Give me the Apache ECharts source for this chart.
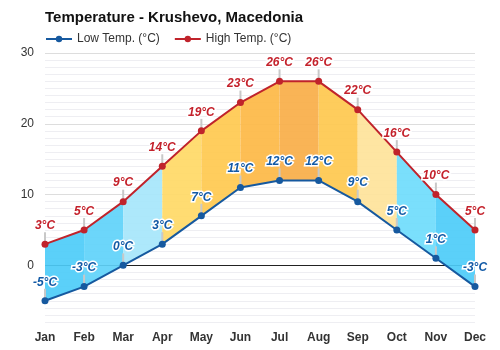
<!DOCTYPE html>
<html><head><meta charset="utf-8">
<script src="https://cdn.jsdelivr.net/npm/echarts@6/dist/echarts.min.js"></script>
<style>html,body{margin:0;padding:0;background:#fff}#c{width:500px;height:350px}</style>
</head><body><div id="c"></div>
<script>
const months = ['Jan','Feb','Mar','Apr','May','Jun','Jul','Aug','Sep','Oct','Nov','Dec'];
const lowTemps = [-5,-3,0,3,7,11,12,12,9,5,1,-3];
const highTemps = [3,5,9,14,19,23,26,26,22,16,10,5];
const yTickLabels = [0,10,20,30];

const segColors = ['#4dccf9','#5fd3fa','#a6e6fb','#ffd966','#ffc94f','#fdb845','#f9ae48','#fec84e','#fee39a','#6fdcfc','#4dccf9'];
const FONT = '"Liberation Sans", Arial, sans-serif';

const segData = [];
for (let i = 0; i < months.length - 1; i++) {
  segData.push([i, lowTemps[i], lowTemps[i+1], highTemps[i], highTemps[i+1]]);
}
const tickData = [];
for (let i = 0; i < months.length; i++) { tickData.push([i, lowTemps[i]]); tickData.push([i, highTemps[i]]); }

const chart = echarts.init(document.getElementById('c'), null, {renderer:'canvas'});
chart.setOption({
  animation:false,
  backgroundColor:'#fff',
  title:{text:'Temperature - Krushevo, Macedonia', left:40, top:5,
    textStyle:{fontFamily:FONT, fontSize:15, fontWeight:'bold', color:'#111'}},
  legend:{left:40, top:28, itemWidth:26, itemHeight:8, itemGap:14,
    data:['Low Temp. (°C)','High Temp. (°C)'],
    textStyle:{fontFamily:FONT, fontSize:12, color:'#333'}},
  grid:{left:45, right:25, top:53, bottom:28},
  xAxis:{type:'category', data:months, boundaryGap:false,
    axisLine:{show:false}, axisTick:{show:false}, splitLine:{show:false},
    axisLabel:{fontFamily:FONT, fontSize:12, fontWeight:'bold', color:'#333', margin:10}},
  yAxis:{type:'value', min:-8, max:30, interval:1,
    axisLine:{show:false}, axisTick:{show:false},
    axisLabel:{fontFamily:FONT, fontSize:12, color:'#333', margin:11,
      formatter:v => yTickLabels.indexOf(v) >= 0 ? String(v) : ''},
    splitLine:{lineStyle:{color:'#eeeef2', width:1}}},
  series:[
    {type:'custom', name:'fill', z:1, silent:true, data:segData,
      renderItem:(params, api) => {
        const i = api.value(0);
        const p1 = api.coord([i, api.value(1)]);
        const p2 = api.coord([i+1, api.value(2)]);
        const p3 = api.coord([i+1, api.value(4)]);
        const p4 = api.coord([i, api.value(3)]);
        return {type:'polygon', shape:{points:[p1,p2,p3,p4]},
          style:{fill:segColors[params.dataIndex], opacity:0.92}};
      }},
    {type:'custom', name:'ticks', z:2, silent:true, data:tickData,
      renderItem:(params, api) => {
        const p = api.coord([api.value(0), api.value(1)]);
        return {type:'line', shape:{x1:p[0], y1:p[1], x2:p[0], y2:p[1]-12},
          style:{stroke:'#c8c8c8', lineWidth:2}};
      }},
    {type:'line', name:'Low Temp. (°C)', data:lowTemps, z:4,
      symbol:'circle', symbolSize:7, color:'#16599f',
      lineStyle:{width:2, color:'#16599f'}, itemStyle:{color:'#16599f'},
      label:{show:true, position:'top', distance:9, formatter:p => p.value + '°C',
        fontFamily:FONT, fontSize:12, fontWeight:'bold', fontStyle:'italic',
        color:'#125aa6', textBorderColor:'#fff', textBorderWidth:3},
      markLine:{silent:true, symbol:'none', label:{show:false}, z:0,
        data:[{yAxis:10, lineStyle:{color:'#dddddd', width:1, type:'solid'}},
              {yAxis:20, lineStyle:{color:'#dddddd', width:1, type:'solid'}},
              {yAxis:30, lineStyle:{color:'#dddddd', width:1, type:'solid'}},
              {yAxis:0, lineStyle:{color:'#222', width:1, type:'solid'}}]}},
    {type:'line', name:'High Temp. (°C)', data:highTemps, z:4,
      symbol:'circle', symbolSize:7, color:'#c0232b',
      lineStyle:{width:2, color:'#c0232b'}, itemStyle:{color:'#c0232b'},
      label:{show:true, position:'top', distance:9, formatter:p => p.value + '°C',
        fontFamily:FONT, fontSize:12, fontWeight:'bold', fontStyle:'italic',
        color:'#c4212b', textBorderColor:'#fff', textBorderWidth:3}}
  ]
});
</script></body></html>
